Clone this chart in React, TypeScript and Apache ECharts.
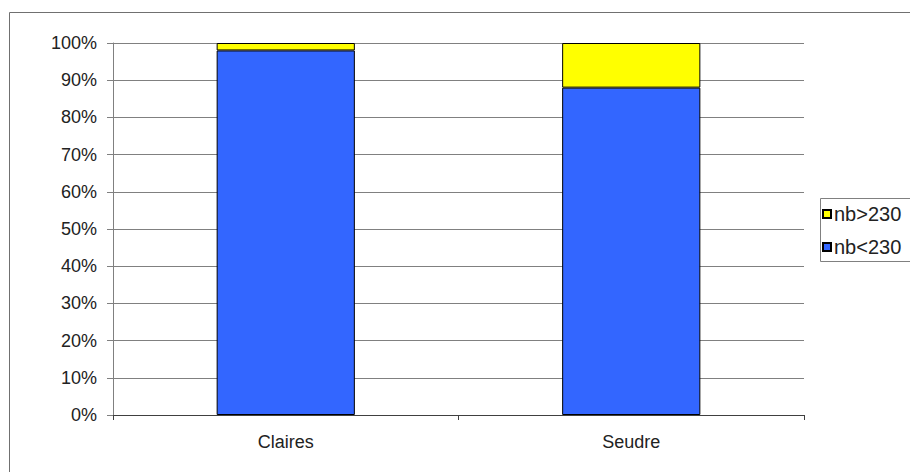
import React, { useEffect, useRef } from "react";
import * as echarts from "echarts";

const categories = ["Claires", "Seudre"];
const below230 = [98, 88];
const above230 = [2, 12];
const seriesNames = ["nb<230", "nb>230"];

export default function App() {
  const ref = useRef<HTMLDivElement>(null);
  useEffect(() => {
    if (!ref.current) return;
    const chart = echarts.init(ref.current, null, { renderer: "svg" });
    const font = "Arial, 'Liberation Sans', sans-serif";
    chart.setOption({
      animation: false,
      backgroundColor: "#fff",
      graphic: [
        {
          type: "rect",
          shape: { x: 9.5, y: 12.5, width: 930, height: 480 },
          style: { fill: "none", stroke: "#707070", lineWidth: 1 },
          silent: true,
        },
        {
          type: "rect",
          shape: { x: 820.5, y: 198.5, width: 200, height: 63 },
          style: { fill: "#fff", stroke: "#808080", lineWidth: 1 },
          silent: true,
          z: 0,
        },
      ],
      grid: { left: 113, top: 43, width: 691, height: 372 },
      legend: {
        orient: "vertical",
        left: 821,
        top: 198,
        data: [seriesNames[1], seriesNames[0]],
        borderWidth: 0,
        padding: [6, 0, 7, 1],
        itemGap: 13,
        itemWidth: 8,
        itemHeight: 8,
        icon: "rect",
        z: 10,
        textStyle: { fontFamily: font, fontSize: 20, color: "#222", padding: [0, 0, 0, -2] },
      },
      xAxis: {
        type: "category",
        data: categories,
        boundaryGap: true,
        axisLine: { lineStyle: { color: "#404040", width: 1 } },
        axisTick: { show: true, length: 5, alignWithLabel: false, interval: 0, lineStyle: { color: "#404040" } },
        axisLabel: { fontFamily: font, fontSize: 18, color: "#222", margin: 18 },
      },
      yAxis: {
        type: "value",
        min: 0,
        max: 100,
        interval: 10,
        axisLine: { show: true, lineStyle: { color: "#808080" } },
        axisTick: { show: true, length: 6, lineStyle: { color: "#808080" } },
        axisLabel: { formatter: "{value}%", fontFamily: font, fontSize: 18, color: "#222", margin: 16 },
        splitLine: { show: true, lineStyle: { color: "#808080", width: 1 } },
      },
      series: [
        {
          name: seriesNames[0],
          type: "bar",
          stack: "total",
          data: below230,
          barWidth: "40%",
          itemStyle: { color: "#3366FF", borderColor: "#000", borderWidth: 1 },
        },
        {
          name: seriesNames[1],
          type: "bar",
          stack: "total",
          data: above230,
          barWidth: "40%",
          itemStyle: { color: "#FFFF00", borderColor: "#000", borderWidth: 1 },
        },
      ],
    });
    return () => chart.dispose();
  }, []);
  return (
    <div
      ref={ref}
      style={{ position: "absolute", left: 0, top: 0, width: 910, height: 472 }}
    />
  );
}
